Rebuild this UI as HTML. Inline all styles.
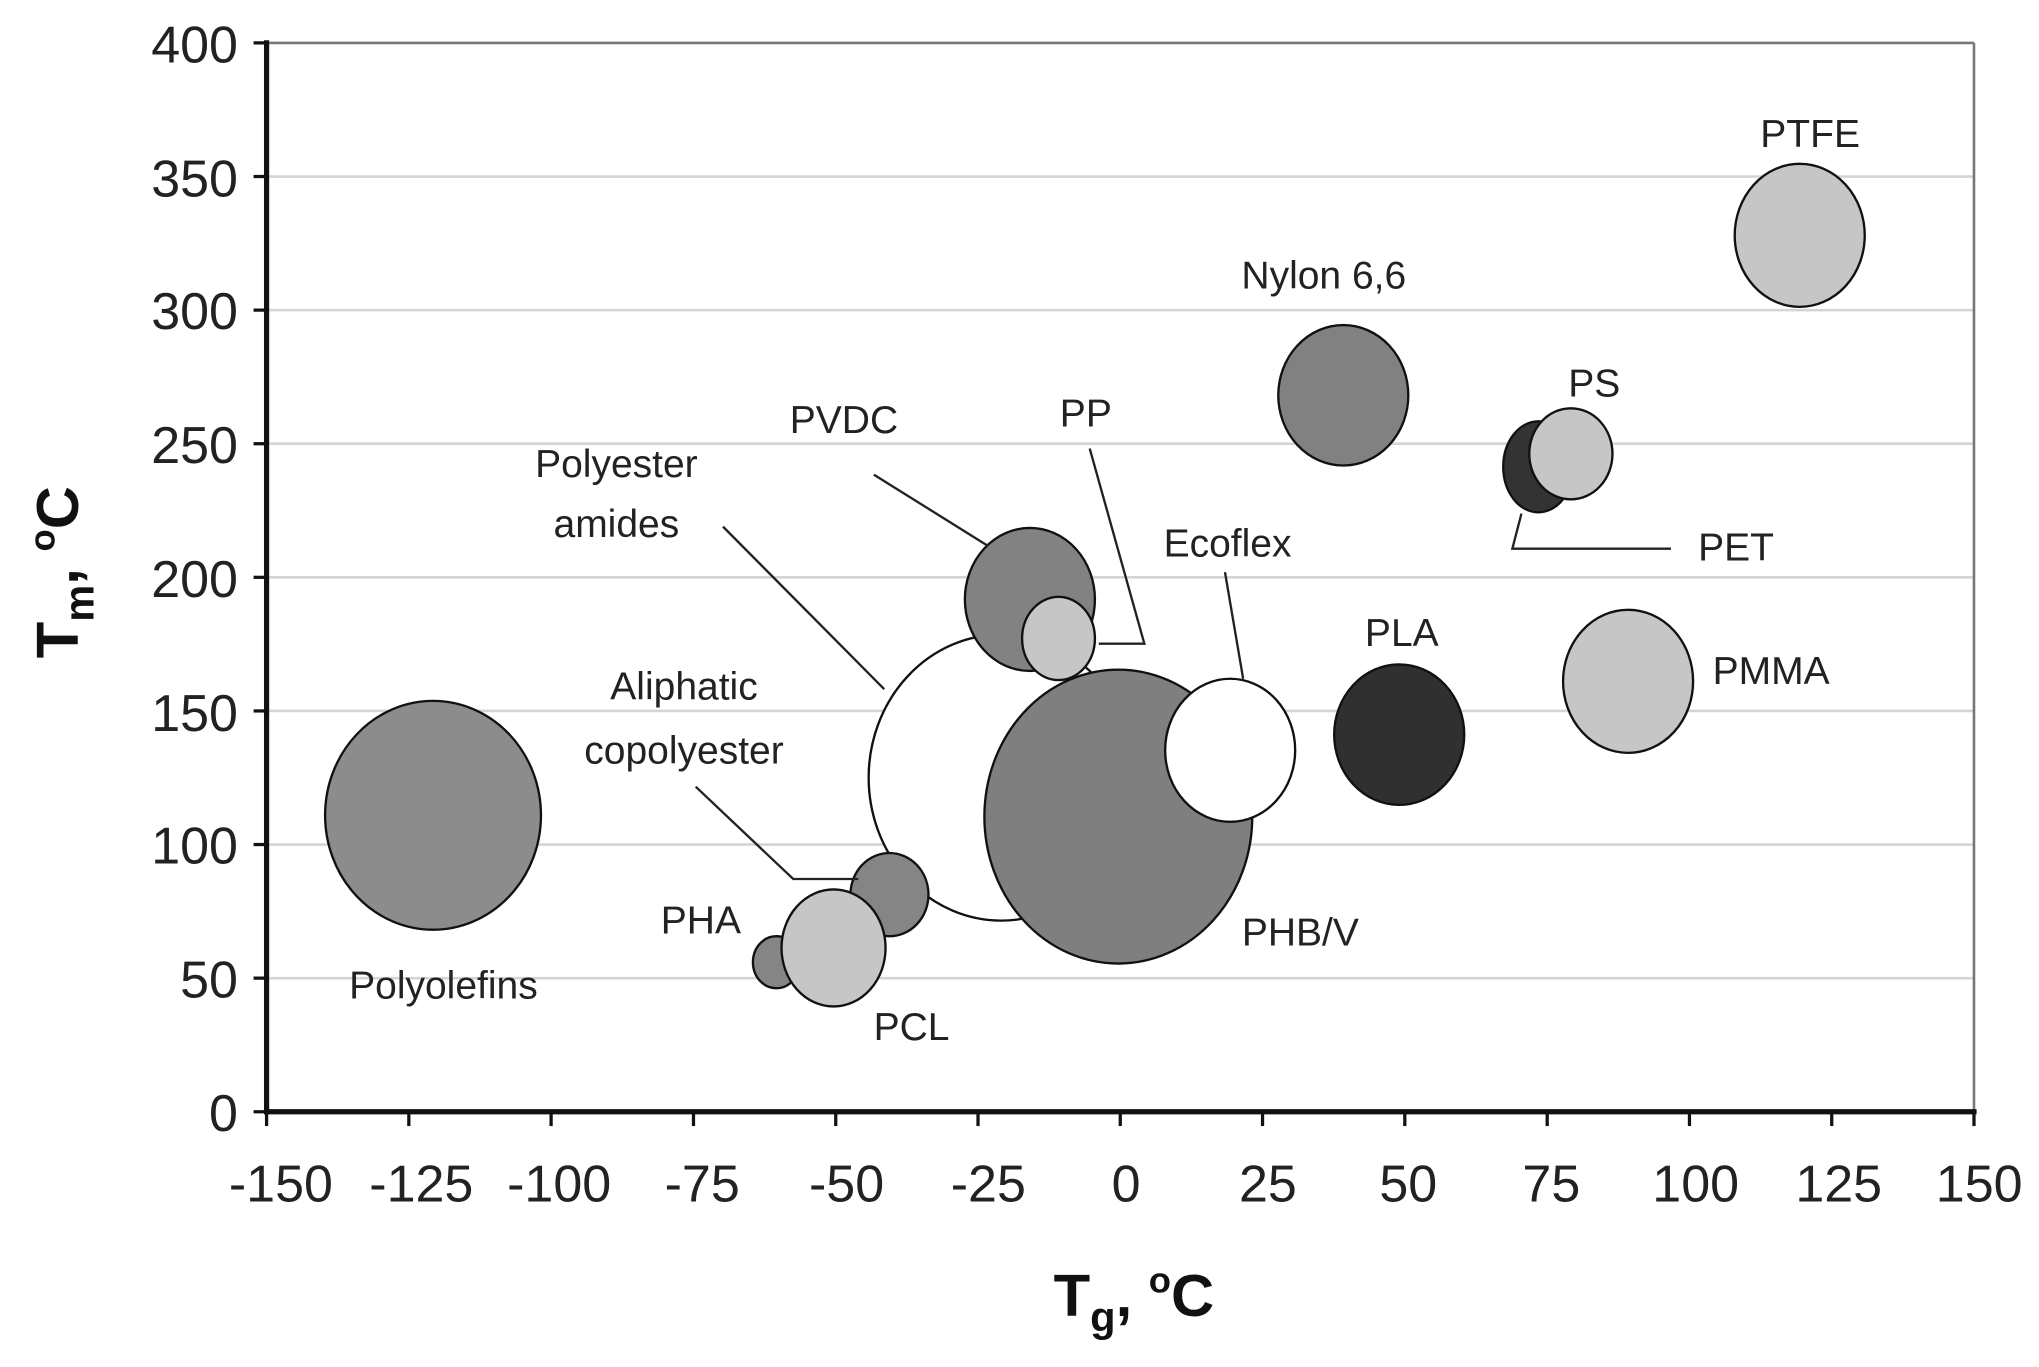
<!DOCTYPE html>
<html><head><style>html,body{margin:0;padding:0;background:#fff}svg{display:block}</style></head><body>
<svg width="2039" height="1367" viewBox="0 0 1568 1051.3" preserveAspectRatio="none" xmlns="http://www.w3.org/2000/svg" font-family="Liberation Sans, Arial, sans-serif">
<rect width="1568" height="1052" fill="#fff"/>
<g stroke="#d4d4d4" stroke-width="2">
<line x1="205" x2="1518" y1="135.75" y2="135.75"/><line x1="205" x2="1518" y1="238.5" y2="238.5"/>
<line x1="205" x2="1518" y1="341.25" y2="341.25"/><line x1="205" x2="1518" y1="444" y2="444"/>
<line x1="205" x2="1518" y1="546.75" y2="546.75"/><line x1="205" x2="1518" y1="649.5" y2="649.5"/>
<line x1="205" x2="1518" y1="752.25" y2="752.25"/>
</g>
<line x1="205" x2="1518" y1="33" y2="33" stroke="#777" stroke-width="2"/>
<line x1="1518" x2="1518" y1="33" y2="855" stroke="#777" stroke-width="2"/>
<g stroke="#111" stroke-width="1.8">
<ellipse cx="333" cy="627" rx="83" ry="88" fill="#8c8c8c"/>
<ellipse cx="1384" cy="181" rx="50" ry="55" fill="#c6c6c6"/>
<ellipse cx="1033" cy="304" rx="50" ry="54" fill="#818181"/>
<ellipse cx="1183" cy="359" rx="27" ry="35" fill="#333"/>
<ellipse cx="1208" cy="349" rx="32" ry="35" fill="#c6c6c6"/>
<ellipse cx="770" cy="598" rx="102" ry="110" fill="#fff"/>
<ellipse cx="792" cy="461" rx="50" ry="55" fill="#828282"/>
<ellipse cx="814" cy="491" rx="28" ry="32" fill="#c6c6c6"/>
<ellipse cx="860" cy="628" rx="103" ry="113" fill="#7f7f7f"/>
<ellipse cx="946" cy="577" rx="50" ry="55" fill="#fff"/>
<ellipse cx="1076" cy="565" rx="50" ry="54" fill="#303030"/>
<ellipse cx="1252" cy="524" rx="50" ry="55" fill="#c6c6c6"/>
<ellipse cx="684" cy="688" rx="30" ry="32" fill="#858585"/>
<ellipse cx="597" cy="740" rx="18" ry="20" fill="#858585"/>
<ellipse cx="641" cy="729" rx="40" ry="45" fill="#c6c6c6"/>
</g>
<g stroke="#222" stroke-width="1.8" fill="none">
<polyline points="672,365 760,420"/>
<polyline points="838,345 880,495 845,495"/>
<polyline points="556,405 680,530"/>
<polyline points="942,440 956,522"/>
<polyline points="535,605 610,676 660,676"/>
<polyline points="1285,422 1163,422 1170,395"/>
</g>
<g font-size="30" fill="#222">
<text x="1392" y="113" text-anchor="middle">PTFE</text>
<text x="1018" y="222" text-anchor="middle">Nylon 6,6</text>
<text x="1226" y="305" text-anchor="middle">PS</text>
<text x="1335" y="431" text-anchor="middle">PET</text>
<text x="649" y="333" text-anchor="middle">PVDC</text>
<text x="835" y="328" text-anchor="middle">PP</text>
<text x="474" y="367" text-anchor="middle">Polyester</text>
<text x="474" y="413" text-anchor="middle">amides</text>
<text x="944" y="428" text-anchor="middle">Ecoflex</text>
<text x="1078" y="497" text-anchor="middle">PLA</text>
<text x="1362" y="526" text-anchor="middle">PMMA</text>
<text x="526" y="538" text-anchor="middle">Aliphatic</text>
<text x="526" y="587" text-anchor="middle">copolyester</text>
<text x="539" y="718" text-anchor="middle">PHA</text>
<text x="1000" y="727" text-anchor="middle">PHB/V</text>
<text x="341" y="768" text-anchor="middle">Polyolefins</text>
<text x="701" y="800" text-anchor="middle">PCL</text>
</g>
<g stroke="#111" stroke-width="4">
<line x1="205" x2="205" y1="31" y2="857"/>
<line x1="203" x2="1520" y1="855" y2="855"/>
</g>
<g stroke="#111" stroke-width="2.5">
<line x1="195" x2="205" y1="33" y2="33"/><line x1="195" x2="205" y1="135.75" y2="135.75"/>
<line x1="195" x2="205" y1="238.5" y2="238.5"/><line x1="195" x2="205" y1="341.25" y2="341.25"/>
<line x1="195" x2="205" y1="444" y2="444"/><line x1="195" x2="205" y1="546.75" y2="546.75"/>
<line x1="195" x2="205" y1="649.5" y2="649.5"/><line x1="195" x2="205" y1="752.25" y2="752.25"/>
<line x1="195" x2="205" y1="855" y2="855"/>
<line x1="205" x2="205" y1="855" y2="866"/><line x1="314.4" x2="314.4" y1="855" y2="866"/>
<line x1="423.8" x2="423.8" y1="855" y2="866"/><line x1="533.3" x2="533.3" y1="855" y2="866"/>
<line x1="642.7" x2="642.7" y1="855" y2="866"/><line x1="752.1" x2="752.1" y1="855" y2="866"/>
<line x1="861.5" x2="861.5" y1="855" y2="866"/><line x1="970.9" x2="970.9" y1="855" y2="866"/>
<line x1="1080.3" x2="1080.3" y1="855" y2="866"/><line x1="1189.8" x2="1189.8" y1="855" y2="866"/>
<line x1="1299.2" x2="1299.2" y1="855" y2="866"/><line x1="1408.6" x2="1408.6" y1="855" y2="866"/>
<line x1="1518" x2="1518" y1="855" y2="866"/>
</g>
<g font-size="40" fill="#222" text-anchor="end">
<text x="183" y="48">400</text><text x="183" y="151">350</text><text x="183" y="253">300</text>
<text x="183" y="356">250</text><text x="183" y="459">200</text><text x="183" y="562">150</text>
<text x="183" y="664">100</text><text x="183" y="767">50</text><text x="183" y="870">0</text>
</g>
<g font-size="40" fill="#222" text-anchor="middle">
<text x="216" y="924">-150</text><text x="324" y="924">-125</text><text x="430" y="924">-100</text>
<text x="540" y="924">-75</text><text x="651" y="924">-50</text><text x="760" y="924">-25</text>
<text x="866" y="924">0</text><text x="975" y="924">25</text><text x="1083" y="924">50</text>
<text x="1193" y="924">75</text><text x="1304" y="924">100</text><text x="1414" y="924">125</text>
<text x="1522" y="924">150</text>
</g>
<text x="872" y="1012" font-size="46" font-weight="bold" fill="#111" text-anchor="middle">T<tspan font-size="32" dy="12">g</tspan><tspan dy="-12">, </tspan><tspan font-size="28" dy="-18">o</tspan><tspan dy="18">C</tspan></text>
<text transform="translate(60,440) rotate(-90)" font-size="46" font-weight="bold" fill="#111" text-anchor="middle">T<tspan font-size="32" dy="12">m</tspan><tspan dy="-12">, </tspan><tspan font-size="28" dy="-18">o</tspan><tspan dy="18">C</tspan></text>
</svg>
</body></html>
